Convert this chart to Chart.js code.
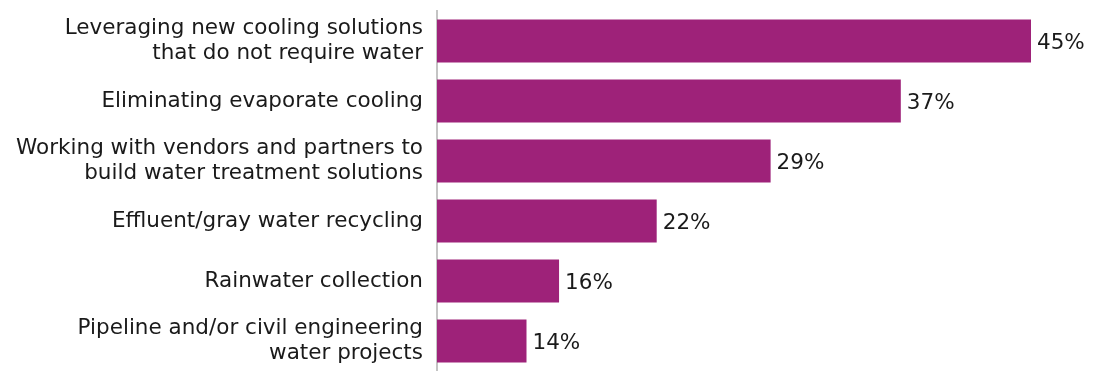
<!DOCTYPE html>
<html>
<head>
<meta charset="utf-8">
<script src="https://cdn.jsdelivr.net/npm/chart.js@4/dist/chart.umd.min.js"></script>
<style>
    html, body { margin: 0; padding: 0; background: #fff; }
    #wrap { width: 1093px; height: 371px; position: relative; }
</style>
</head>
<body>
<div id="wrap"><canvas id="grafica"></canvas></div>
<script>
// datos
const categorias = [
    ['Leveraging new cooling solutions', 'that do not require water'],
    'Eliminating evaporate cooling',
    ['Working with vendors and partners to', 'build water treatment solutions'],
    'Effluent/gray water recycling',
    'Rainwater collection',
    ['Pipeline and/or civil engineering', 'water projects']
];
const valores = [45, 37, 29, 22, 16, 14];
const etiquetas = ['45%', '37%', '29%', '22%', '16%', '14%'];

const fuente = "'DejaVu Sans', 'Noto Sans', sans-serif";

// etiquetas al final de cada barra
const pluginEtiquetas = {
    id: 'etiquetasBarras',
    afterDatasetsDraw: function (chart) {
        const ctx = chart.ctx;
        const meta = chart.getDatasetMeta(0);
        ctx.save();
        ctx.font = '21.5px ' + fuente;
        ctx.fillStyle = '#1a1a1a';
        ctx.textAlign = 'left';
        ctx.textBaseline = 'middle';
        meta.data.forEach((bar, i) => {
            ctx.fillText(etiquetas[i], bar.x + 6, bar.y + 2);
        });
        ctx.restore();
    }
};

document.addEventListener('DOMContentLoaded', function () {
    const canvas = document.getElementById('grafica');
    new Chart(canvas, {
        type: 'bar',
        data: {
            labels: categorias,
            datasets: [{
                data: valores,
                backgroundColor: '#9e2279',
                categoryPercentage: 1,
                barPercentage: 0.72
            }]
        },
        options: {
            indexAxis: 'y',
            responsive: true,
            maintainAspectRatio: false,
            animation: false,
            layout: { padding: { top: 11, right: 62, bottom: 0, left: 0 } },
            plugins: {
                legend: { display: false },
                tooltip: { enabled: false }
            },
            scales: {
                x: {
                    min: 8.5,
                    max: 45,
                    display: false,
                    grid: { display: false }
                },
                y: {
                    grid: { display: false, drawTicks: false },
                    border: { display: true, color: '#c4c4c4', width: 2 },
                    ticks: {
                        color: '#1a1a1a',
                        padding: 14,
                        font: { family: fuente, size: 21.5, lineHeight: 1.17 }
                    },
                    afterFit: function (scale) {
                        scale.width = 437;
                        scale.paddingTop = 0;
                        scale.paddingBottom = 0;
                    }
                }
            }
        },
        plugins: [pluginEtiquetas]
    });
});
</script>
</body>
</html>
